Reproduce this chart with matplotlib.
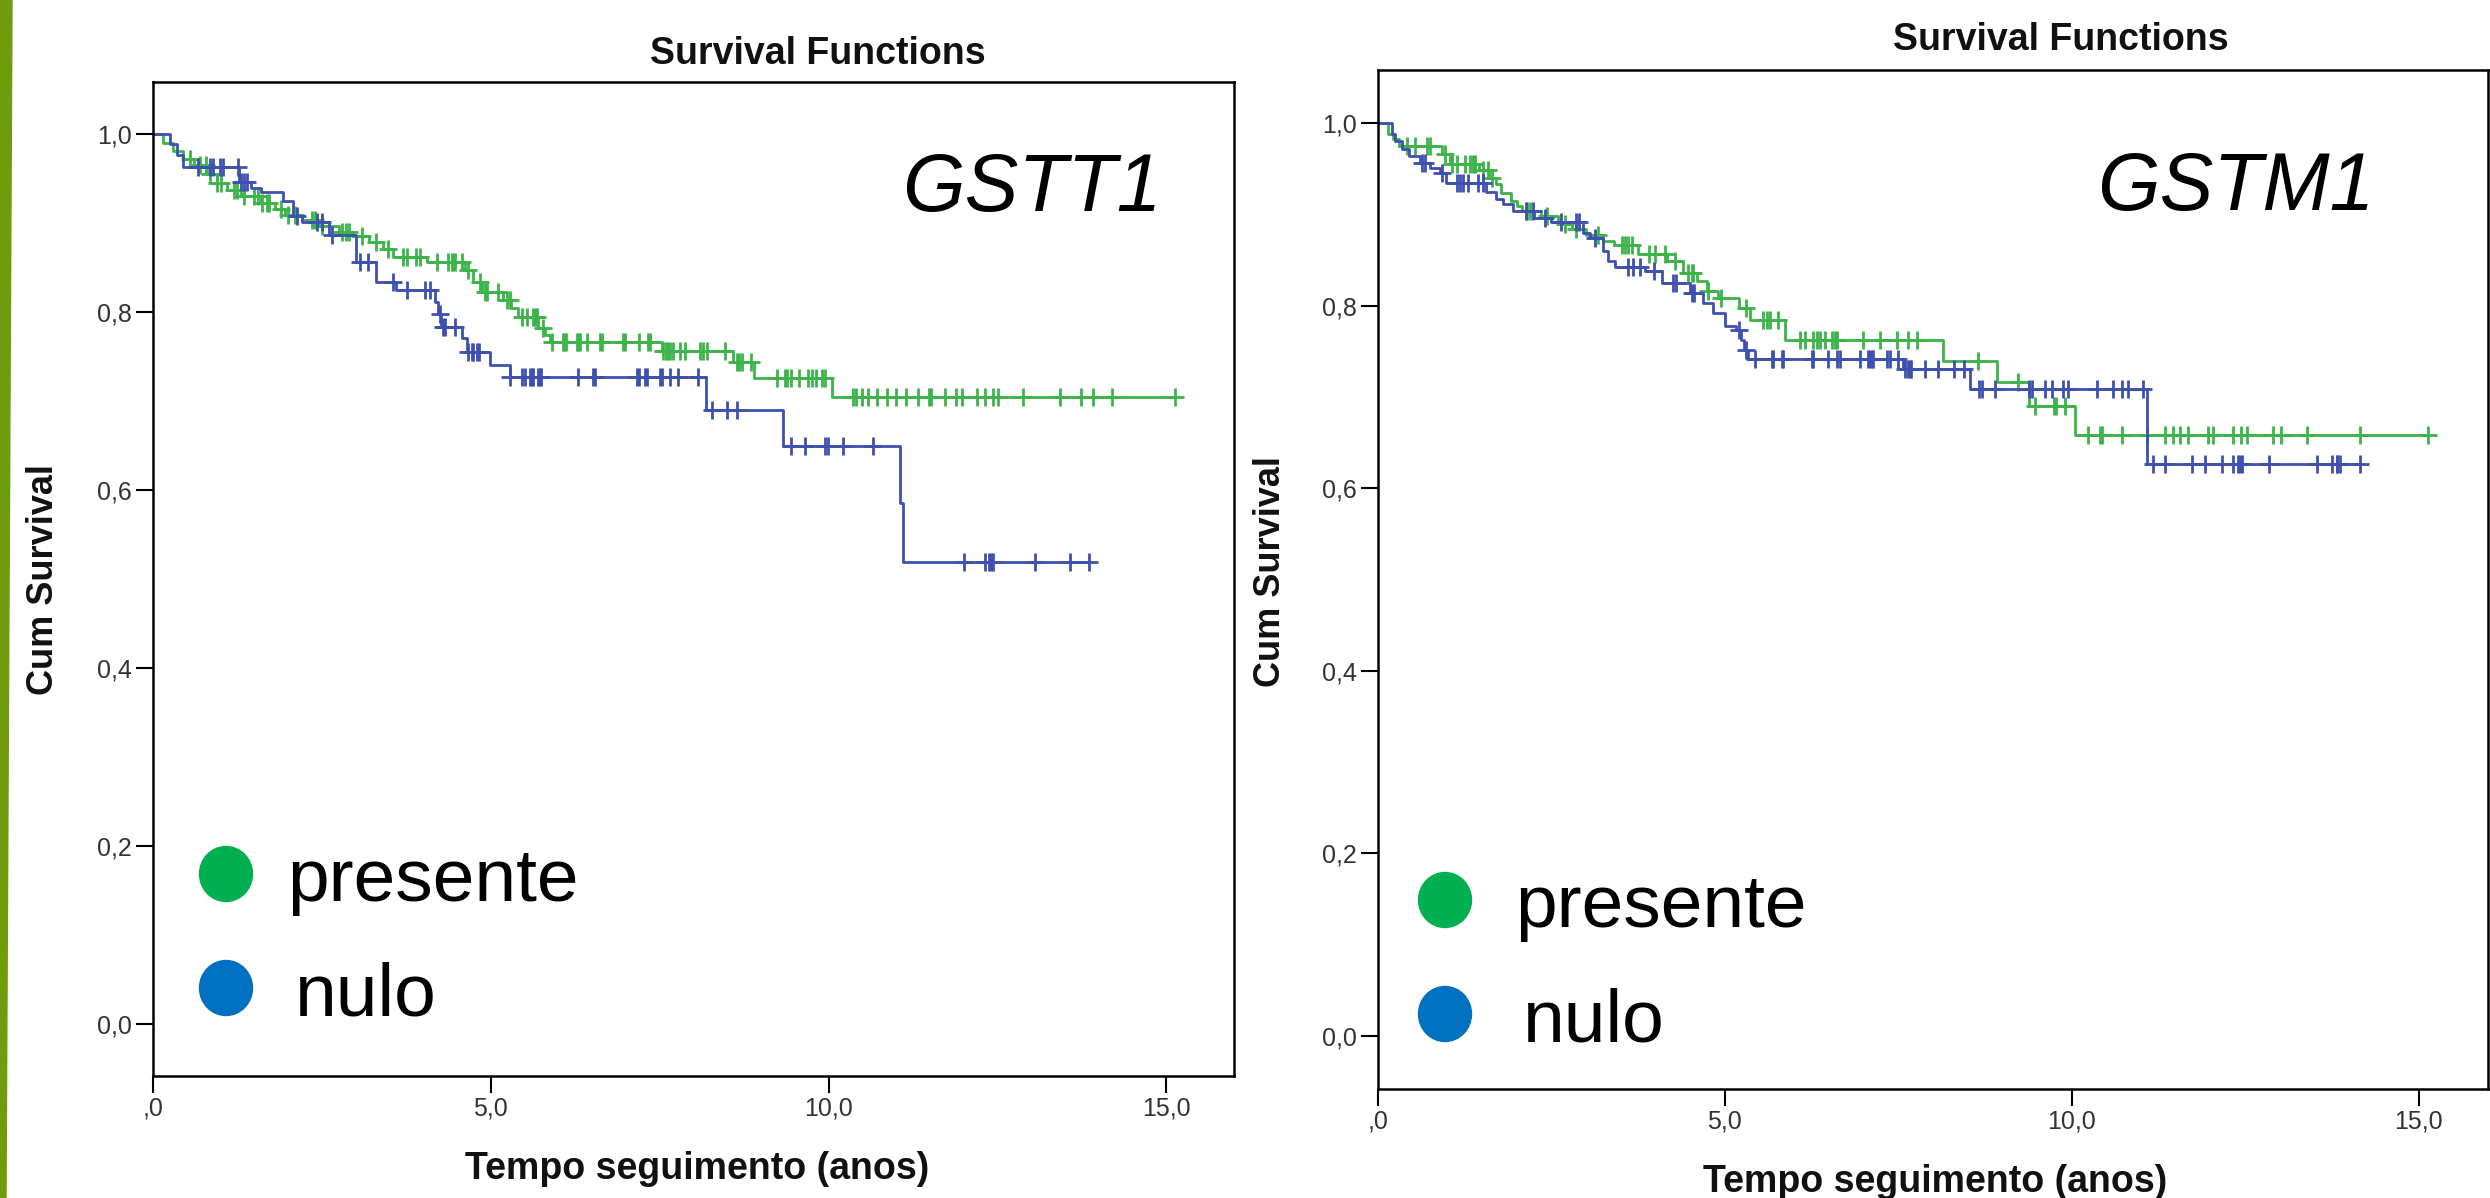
import numpy as np
import matplotlib
matplotlib.use('Agg')
import matplotlib.pyplot as plt
from matplotlib.patches import Ellipse, Polygon

plt.rcParams['font.family'] = ['Liberation Sans', 'DejaVu Sans']

# ---- GSTT1 (left panel) ----
gstt1_pres_t = [0.0, 0.15, 0.30, 0.45, 0.60, 0.80, 0.95, 1.10, 1.30, 1.60, 1.80, 1.95, 2.20,
                2.45, 2.75, 2.95, 3.20, 3.40, 3.55, 4.05, 4.62, 4.74, 4.87, 5.18, 5.30, 5.40,
                5.70, 5.80, 5.88, 7.53, 8.58, 8.90, 10.05]
gstt1_pres_s = [1.0, 0.990, 0.980, 0.972, 0.965, 0.955, 0.945, 0.937, 0.930, 0.922, 0.915, 0.909,
                0.903, 0.896, 0.890, 0.885, 0.878, 0.870, 0.862, 0.856, 0.847, 0.833, 0.822, 0.813,
                0.804, 0.794, 0.782, 0.774, 0.766, 0.756, 0.744, 0.726, 0.704]
gstt1_pres_cens = [0.55, 0.7, 0.78, 0.85, 0.95, 1.0, 1.2, 1.25, 1.35, 1.5, 1.55, 1.62, 1.68, 1.72,
                   1.9, 2.0, 2.1, 2.35, 2.4, 2.5, 2.8, 2.85, 2.9, 3.1, 3.3, 3.48, 3.7, 3.76, 3.9,
                   3.95, 4.2, 4.36, 4.42, 4.44, 4.47, 4.57, 4.66, 4.84, 4.91, 4.94, 5.1, 5.24, 5.28,
                   5.46, 5.53, 5.62, 5.65, 5.68, 5.77, 5.9, 6.07, 6.09, 6.12, 6.27, 6.29, 6.32,
                   6.42, 6.61, 6.64, 6.95, 6.98, 7.2, 7.32, 7.35, 7.55, 7.6, 7.62, 7.65, 7.69, 7.8,
                   7.87, 8.09, 8.14, 8.2, 8.46, 8.64, 8.68, 8.72, 8.85, 9.23, 9.36, 9.39, 9.44,
                   9.56, 9.69, 9.75, 9.82, 9.9, 9.94, 10.36, 10.41, 10.49, 10.58, 10.71, 10.86,
                   11.0, 11.15, 11.32, 11.49, 11.52, 11.72, 11.89, 11.98, 12.19, 12.31, 12.43,
                   12.51, 12.88, 13.42, 13.74, 13.91, 14.19, 15.13]

gstt1_nulo_t = [0.0, 0.25, 0.35, 0.45, 1.28, 1.45, 1.60, 1.93, 2.07, 2.20, 2.60, 3.00, 3.30, 3.60,
                4.18, 4.22, 4.27, 4.57, 4.65, 4.99, 5.28, 8.19, 9.32, 11.05, 11.10]
gstt1_nulo_s = [1.0, 0.988, 0.976, 0.963, 0.946, 0.939, 0.935, 0.924, 0.907, 0.901, 0.886, 0.856,
                0.834, 0.825, 0.811, 0.797, 0.783, 0.771, 0.755, 0.740, 0.727, 0.690, 0.649,
                0.585, 0.519]
gstt1_nulo_cens = [0.67, 0.84, 0.89, 0.99, 1.04, 1.26, 1.3, 1.35, 1.39, 2.13, 2.43, 2.5, 2.65,
                   3.06, 3.18, 3.55, 3.76, 4.02, 4.1, 4.25, 4.29, 4.32, 4.47, 4.66, 4.72, 4.73,
                   4.8, 4.83, 5.28, 5.46, 5.5, 5.58, 5.61, 5.62, 5.7, 5.73, 5.75, 6.29, 6.51, 6.54,
                   7.16, 7.2, 7.28, 7.31, 7.5, 7.53, 7.65, 7.77, 8.06, 8.27, 8.5, 8.65, 9.45, 9.65,
                   9.94, 9.99, 10.21, 10.65, 12.01, 12.31, 12.38, 12.41, 12.43, 13.05, 13.58, 13.86]

# ---- GSTM1 (right panel) ----
gstm1_pres_t = [0.0, 0.14, 0.22, 0.30, 0.92, 1.04, 1.45, 1.60, 1.70, 1.78, 1.92, 2.00, 2.08, 2.35,
                2.60, 2.80, 3.00, 3.25, 3.40, 3.75, 4.16, 4.40, 4.60, 4.74, 4.90, 5.20, 5.36,
                5.86, 8.14, 8.92, 9.39, 10.04]
gstm1_pres_s = [1.0, 0.988, 0.982, 0.975, 0.966, 0.955, 0.948, 0.940, 0.933, 0.923, 0.915, 0.909,
                0.904, 0.898, 0.889, 0.884, 0.877, 0.871, 0.866, 0.857, 0.849, 0.836, 0.827,
                0.816, 0.808, 0.797, 0.784, 0.762, 0.739, 0.716, 0.690, 0.658]
gstm1_pres_cens = [0.42, 0.53, 0.71, 0.75, 0.97, 1.07, 1.14, 1.25, 1.33, 1.37, 1.4, 1.51, 1.58,
                   1.65, 2.15, 2.19, 2.43, 2.69, 2.85, 3.17, 3.52, 3.56, 3.6, 3.66, 3.9, 3.99,
                   4.14, 4.28, 4.47, 4.52, 4.54, 4.76, 4.95, 5.31, 5.55, 5.6, 5.65, 5.76, 6.08,
                   6.15, 6.27, 6.33, 6.37, 6.44, 6.54, 6.59, 6.61, 6.99, 7.23, 7.48, 7.64, 7.77,
                   8.65, 9.22, 9.47, 9.75, 9.78, 9.9, 10.23, 10.4, 10.43, 10.72, 11.08, 11.34,
                   11.46, 11.56, 11.67, 11.96, 12.03, 12.32, 12.44, 12.52, 12.9, 13.01, 13.39,
                   14.16, 15.14]

gstm1_nulo_t = [0.0, 0.20, 0.25, 0.35, 0.45, 0.60, 0.75, 0.90, 0.98, 1.55, 1.70, 1.80, 1.95,
                2.25, 2.50, 2.95, 3.05, 3.25, 3.32, 3.42, 3.85, 4.10, 4.50, 4.68, 4.83, 5.00,
                5.16, 5.23, 5.28, 5.33, 7.57, 8.53, 11.08]
gstm1_nulo_s = [1.0, 0.988, 0.980, 0.972, 0.964, 0.956, 0.951, 0.945, 0.934, 0.924, 0.917, 0.911,
                0.904, 0.896, 0.891, 0.880, 0.874, 0.860, 0.849, 0.842, 0.838, 0.825, 0.814,
                0.803, 0.792, 0.778, 0.773, 0.762, 0.751, 0.742, 0.731, 0.709, 0.627]
gstm1_nulo_cens = [0.63, 0.68, 0.92, 1.14, 1.18, 1.23, 1.3, 1.44, 1.51, 2.14, 2.24, 2.41, 2.64,
                   2.86, 2.9, 3.13, 3.6, 3.67, 3.77, 3.98, 4.25, 4.3, 4.52, 4.55, 5.2, 5.31, 5.43,
                   5.68, 5.69, 5.82, 5.84, 6.25, 6.27, 6.48, 6.61, 6.66, 6.95, 7.06, 7.09, 7.12,
                   7.13, 7.33, 7.38, 7.49, 7.59, 7.64, 7.67, 7.69, 7.88, 8.07, 8.3, 8.45, 8.67,
                   8.7, 8.89, 9.39, 9.42, 9.61, 9.71, 9.87, 9.94, 10.36, 10.59, 10.72, 10.81,
                   11.02, 11.17, 11.34, 11.74, 11.92, 12.16, 12.32, 12.39, 12.42, 12.45, 12.85,
                   13.54, 13.75, 13.82, 13.83, 13.86, 14.16]

yticks = [0.0, 0.2, 0.4, 0.6, 0.8, 1.0]
ytick_labels = ['0,0', '0,2', '0,4', '0,6', '0,8', '1,0']
xticks = [0, 5, 10, 15]
xtick_labels = [',0', '5,0', '10,0', '15,0']
groups = ['presente', 'nulo']

green_line = '#3cb44a'
blue_line = '#3e50b0'
green_dot = '#00b050'
blue_dot = '#0070c0'

W, H = 2490, 1198
fig = plt.figure(figsize=(W / 100, H / 100), dpi=100)


def fx(x):
    return x / W


def fy(y):
    return 1 - y / H


def km(ax, t, s, cens, color):
    t = np.asarray(t)
    s = np.asarray(s)
    cens = np.asarray(cens)
    t_end = max(t[-1], cens.max())
    ax.step(np.append(t, t_end), np.append(s, s[-1]), where='post', color=color, lw=2)
    idx = np.searchsorted(t, cens, side='right') - 1
    ax.plot(cens, s[idx], ls='none', marker='+', ms=13, mew=2, color=color)


def panel(box, curves, gene, title_xy, xlab_xy, ylab_xy, gene_xy, legend_xy):
    left, top, right, bottom = box
    ax = fig.add_axes([fx(left), fy(bottom), fx(right) - fx(left), fy(top) - fy(bottom)])
    for t, s, c, col in curves:
        km(ax, t, s, c, col)
    ax.set_xlim(0, 16)
    ax.set_ylim(-0.058, 1.058)
    ax.set_xticks(xticks)
    ax.set_xticklabels(xtick_labels)
    ax.set_yticks(yticks)
    ax.set_yticklabels(ytick_labels)
    ax.tick_params(direction='out', length=12, width=1.5, labelsize=18,
                   labelcolor='#333333', pad=3)
    for sp in ax.spines.values():
        sp.set_linewidth(1.8)
        sp.set_color('black')
    fig.text(fx(title_xy[0]), fy(title_xy[1]), 'Survival Functions', ha='center', va='center',
             fontsize=27, fontweight='bold', color='#111111')
    fig.text(fx(xlab_xy[0]), fy(xlab_xy[1]), 'Tempo seguimento (anos)', ha='center',
             va='center', fontsize=27, fontweight='bold', color='#111111')
    fig.text(fx(ylab_xy[0]), fy(ylab_xy[1]), 'Cum Survival', ha='center', va='center',
             rotation=90, fontsize=26, fontweight='bold', color='#111111')
    fig.text(fx(gene_xy[0]), fy(gene_xy[1]), gene, ha='center', va='baseline',
             fontsize=58, style='italic', color='black')
    cx, cy, tx, gap = legend_xy
    for i, (lab, col) in enumerate(zip(groups, [green_dot, blue_dot])):
        yy = cy + i * gap
        fig.add_artist(Ellipse((fx(cx), fy(yy)), 53 / W, 55 / H, color=col,
                               transform=fig.transFigure))
        fig.text(fx(tx + (8 if i == 1 else 0)), fy(yy + 27), lab, ha='left', va='baseline',
                 fontsize=54, color='black')
    return ax


panel((153, 82, 1234, 1076),
      [(gstt1_pres_t, gstt1_pres_s, gstt1_pres_cens, green_line),
       (gstt1_nulo_t, gstt1_nulo_s, gstt1_nulo_cens, blue_line)],
      'GSTT1', (818, 54), (697, 1169), (44, 580), (1032, 211), (226, 874, 287, 114))

panel((1378, 70, 2488, 1089),
      [(gstm1_pres_t, gstm1_pres_s, gstm1_pres_cens, green_line),
       (gstm1_nulo_t, gstm1_nulo_s, gstm1_nulo_cens, blue_line)],
      'GSTM1', (2061, 40), (1935, 1182), (1270, 572), (2236, 210), (1445, 900, 1515, 114))

# green accent bar on the left edge
fig.add_artist(Polygon([(0, 1), (fx(12), 1), (fx(6), 0), (0, 0)], closed=True,
                       color='#6f9c0c', transform=fig.transFigure))

fig.savefig('out.png', dpi=100)
